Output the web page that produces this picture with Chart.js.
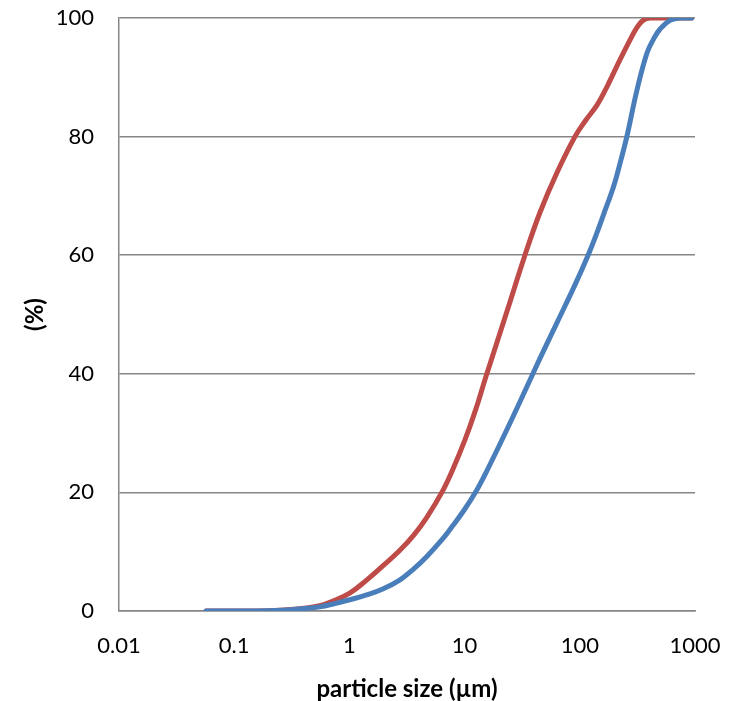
<!DOCTYPE html>
<html>
<head>
<meta charset="utf-8">
<script src="https://cdn.jsdelivr.net/npm/chart.js@4.4.1/dist/chart.umd.min.js"></script>
<style>
  html, body { margin: 0; padding: 0; background: #ffffff; }
  #wrap { width: 733px; height: 701px; }
</style>
</head>
<body>
<div id="wrap"><canvas id="c" width="733" height="701"></canvas></div>
<script>
// particle size (µm) and cumulative percent
const redSize  = [0.057, 0.1, 0.2, 0.37, 0.552, 0.746, 1.006, 1.41, 1.95, 2.73, 3.62, 4.70, 6.47, 7.91, 10.05, 12.5, 15.3, 23.3, 33.4, 45.1, 63.3, 90.8, 113, 141, 172, 210, 273, 314, 354, 407, 935];
const redPct   = [0, 0, 0.05, 0.4, 0.9, 1.8, 3.0, 5.2, 7.6, 10.2, 12.8, 15.8, 20.3, 23.9, 28.8, 34.0, 39.5, 50.5, 60, 67.2, 73.9, 80, 82.8, 85.3, 88.4, 91.9, 96.3, 98.4, 99.6, 100, 100];
const blueSize = [0.057, 0.1, 0.2, 0.37, 0.552, 0.746, 1.006, 1.41, 1.95, 2.73, 3.62, 4.70, 6.47, 7.91, 10.05, 12.5, 15.3, 23.3, 33.4, 45.1, 63.3, 90.8, 118, 141, 159, 198, 227, 256, 314, 383, 441, 496, 606, 741, 935];
const bluePct  = [0, 0, 0.05, 0.35, 0.7, 1.25, 1.9, 2.7, 3.7, 5.2, 7.1, 9.2, 12.2, 14.4, 17.2, 20.1, 23.3, 30.6, 37.1, 42.6, 48.6, 55, 60, 63.8, 66.6, 71.8, 76.0, 80, 87.9, 94.1, 96.6, 98.1, 99.6, 100, 100];
const xTicks = [0.01, 0.1, 1, 10, 100, 1000];
const yTicks = [0, 20, 40, 60, 80, 100];
const xTitle = 'particle size (µm)';
const yTitle = '(%)';

const toPts = (xs, ys) => xs.map((x, i) => ({ x: x, y: ys[i] }));

const font = "'Lato', 'Open Sans', 'Liberation Sans', sans-serif";
const gridColor = '#868686';
const zeroPad = s => { s.paddingTop = 0; s.paddingBottom = 0; s.paddingLeft = 0; s.paddingRight = 0; };

new Chart(document.getElementById('c'), {
  type: 'line',
  data: {
    datasets: [
      { label: 'blue', data: toPts(blueSize, bluePct), borderColor: '#4A7EBB', borderWidth: 5,
        pointRadius: 0, tension: 0.4, borderCapStyle: 'round', borderJoinStyle: 'round', fill: false },
      { label: 'red', data: toPts(redSize, redPct), borderColor: '#BE4B48', borderWidth: 5,
        pointRadius: 0, tension: 0.4, borderCapStyle: 'round', borderJoinStyle: 'round', fill: false }
    ]
  },
  options: {
    responsive: false,
    animation: false,
    events: [],
    layout: { padding: { top: 18, right: 38, left: 0, bottom: 0 } },
    plugins: { legend: { display: false }, tooltip: { enabled: false } },
    scales: {
      x: {
        type: 'logarithmic', min: 0.01, max: 1000,
        afterBuildTicks: s => { s.ticks = xTicks.map(v => ({ value: v })); },
        afterFit: s => { s.height = 90; zeroPad(s); },
        grid: { display: false, drawTicks: false },
        border: { display: true, color: gridColor, width: 1.5 },
        ticks: { color: '#000', padding: 22, maxRotation: 0, autoSkip: false,
          font: { family: font, size: 22 },
          callback: v => String(v) },
        title: { display: true, text: xTitle, color: '#000', padding: { top: 0, bottom: 0 },
          font: { family: font, size: 24, weight: 'bold', lineHeight: 1.0 } }
      },
      y: {
        min: 0, max: 100,
        afterBuildTicks: s => { s.ticks = yTicks.map(v => ({ value: v })); },
        afterFit: s => { s.width = 119; zeroPad(s); },
        grid: { color: gridColor, lineWidth: 1.5, drawTicks: false },
        border: { display: true, color: gridColor, width: 1.5 },
        ticks: { color: '#000', padding: 25, font: { family: font, size: 22 } },
        title: { display: true, text: yTitle, color: '#000', padding: { top: 21, bottom: 0 },
          font: { family: font, size: 24, weight: 'bold' } }
      }
    }
  }
});
</script>
</body>
</html>
